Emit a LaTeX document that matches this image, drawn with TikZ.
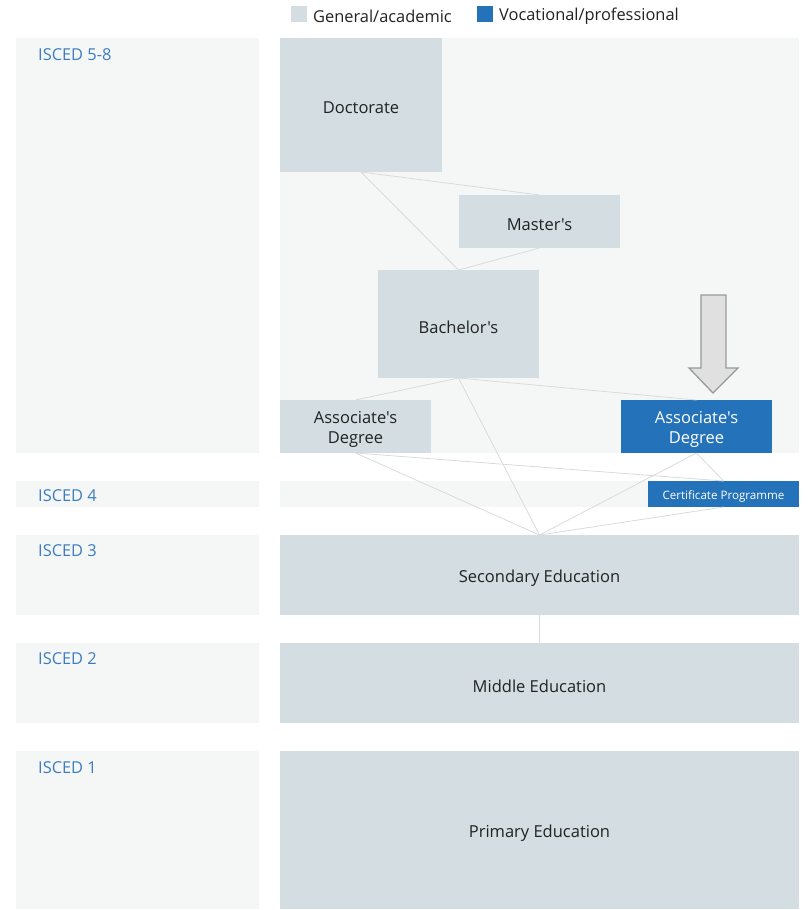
\documentclass[tikz,border=0pt]{standalone}
\usepackage{fontspec}
\setmainfont{Open Sans}[Ligatures=TeXOff]
\usetikzlibrary{positioning}
\definecolor{acadgrey}{HTML}{D3DDE2}
\definecolor{vocblue}{HTML}{2472B9}
\definecolor{bandgrey}{HTML}{F5F7F7}
\definecolor{iscedblue}{HTML}{3C7DC0}
\definecolor{linkgrey}{HTML}{DADADA}
\definecolor{textdark}{HTML}{222222}

\begin{document}
\begin{tikzpicture}[x=1pt,y=-1pt,
    level/.style={anchor=north west,inner sep=0pt,outer sep=0pt},
    acad/.style={level,fill=acadgrey},
    voc/.style={level,fill=vocblue},
    txt/.style={inner sep=0pt,yshift=-3pt,align=center,font=\fontsize{16.5}{20}\selectfont,text=textdark},
    wtxt/.style={txt,text=white},
    isced/.style={anchor=west,inner sep=0pt,yshift=-1pt,text=iscedblue,font=\fontsize{16.4}{18}\selectfont},
    link/.style={draw=linkgrey,line width=0.8pt},
    legend/.style={anchor=west,inner sep=0pt,yshift=-2pt,text=textdark,font=\fontsize{16.4}{18}\selectfont}]
      \useasboundingbox (0,0) rectangle (807,910);
      % legend
      \fill[acadgrey](291,6) rectangle (307,22);
      \node[legend](legacad) at (313,14) {General/academic};
      \fill[vocblue](477,6) rectangle (493,22);
      \node[legend](legvoc) at (499,14) {Vocational/professional};
      % bands
      \fill[bandgrey](16,38) rectangle (259,453);
      \fill[bandgrey](280,38) rectangle (799,453);
      \fill[bandgrey](16,481) rectangle (259,507);
      \fill[bandgrey](280,481) rectangle (799,507);
      \fill[bandgrey](16,535) rectangle (259,615);
      \fill[bandgrey](16,643) rectangle (259,723);
      \fill[bandgrey](16,751) rectangle (259,909);
      \node[isced](i58) at (38,54) {ISCED 5-8};
      \node[isced](i4) at (38,495) {ISCED 4};
      \node[isced](i3) at (38,550) {ISCED 3};
      \node[isced](i2) at (38,658) {ISCED 2};
      \node[isced](i1) at (38,767) {ISCED 1};
      % programmes
      \node[acad,minimum width=162pt,minimum height=134pt,label={[txt]center:Doctorate}](doc) at (280,38) {};
      \node[acad,minimum width=161pt,minimum height=53pt,label={[txt]center:Master's}](mas) at (459,195) {};
      \node[acad,minimum width=161pt,minimum height=108pt,label={[txt]center:Bachelor's}](bac) at (378,270) {};
      \node[acad,minimum width=151pt,minimum height=53pt,label={[txt]center:Associate's\\Degree}](assa) at (280,400) {};
      \node[voc,minimum width=151pt,minimum height=53pt,label={[wtxt]center:Associate's\\Degree}](assv) at (621,400) {};
      \node[voc,minimum width=151pt,minimum height=26pt,label={[wtxt,yshift=1pt,font=\fontsize{11.6}{13}\selectfont]center:Certificate Programme}](cert) at (648,481) {};
      \node[acad,minimum width=519pt,minimum height=80pt,label={[txt]center:Secondary Education}](sec) at (280,535) {};
      \node[acad,minimum width=519pt,minimum height=80pt,label={[txt]center:Middle Education}](mid) at (280,643) {};
      \node[acad,minimum width=519pt,minimum height=158pt,label={[txt]center:Primary Education}](pri) at (280,751) {};
      % links
      \draw[link](doc.south)--(mas.north);
      \draw[link](doc.south)--(bac.north)--(mas.south);
      \draw[link](bac.south)--(assa.north);
      \draw[link](bac.south)--(assv.north);
      \draw[link](bac.south)--(sec.north);
      \draw[link](assa.south)--(sec.north);
      \draw[link](assa.south)--(cert.north);
      \draw[link](assv.south)--(sec.north);
      \draw[link](assv.south)--(cert.north);
      \draw[link](cert.south)--(sec.north);
      \draw[link](sec.south)--(mid.north);
      % arrow
      \draw[draw=black!40,fill=black!12,line width=1.3pt,line join=miter]
        (701,295)--(726,295)--(726,368)--(738,368)--(713,393)--(689,368)--(701,368)--cycle;
    \end{tikzpicture}
\end{document}
